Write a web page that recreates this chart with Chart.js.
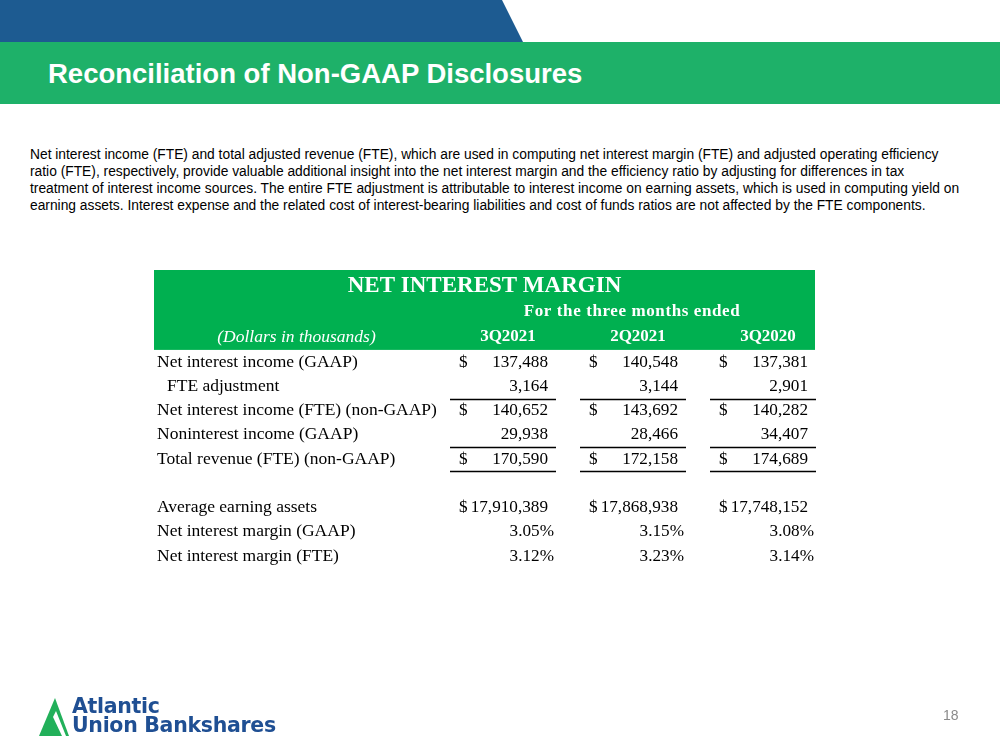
<!DOCTYPE html>
<html>
<head>
<meta charset="utf-8">
<script src="https://cdn.jsdelivr.net/npm/chart.js@4.4.1/dist/chart.umd.min.js"></script>
<style>
  html, body { margin:0; padding:0; background:#fff; }
  body { width:1000px; height:750px; position:relative; overflow:hidden; font-family:"Liberation Sans", Arial, sans-serif; }
  #blueBar { position:absolute; left:0; top:0; width:530px; height:42px; background:#1d5b91;
             clip-path: polygon(0 0, 502px 0, 523px 42px, 0 42px); }
  #greenBar { position:absolute; left:0; top:42px; width:1000px; height:62px; background:#1eb169; }
  #title { position:absolute; left:48px; top:57px; color:#fff; font-weight:bold; font-size:27.5px; line-height:34px; white-space:nowrap; }
  #para { position:absolute; left:30px; top:146px; font-size:13.8px; line-height:17px; color:#000; white-space:nowrap; }
  #chartBox { position:absolute; left:0; top:0; width:1000px; height:750px; }
  #logoText { position:absolute; left:72px; top:697px; color:#1f4f93; font-family:"DejaVu Sans", sans-serif; font-weight:bold; font-size:20.5px; line-height:19px; letter-spacing:-0.3px; white-space:nowrap; }
  #pageNum { position:absolute; left:943px; top:707px; color:#8a8a8a; font-size:14px; }
  #logoMark { position:absolute; left:0; top:0; }
</style>
</head>
<body>
<div id="blueBar"></div>
<div id="greenBar"></div>
<div id="title">Reconciliation of Non-GAAP Disclosures</div>
<div id="para">Net interest income (FTE) and total adjusted revenue (FTE), which are used in computing net interest margin (FTE) and adjusted operating efficiency<br>ratio (FTE), respectively, provide valuable additional insight into the net interest margin and the efficiency ratio by adjusting for differences in tax<br>treatment of interest income sources. The entire FTE adjustment is attributable to interest income on earning assets, which is used in computing yield on<br>earning assets. Interest expense and the related cost of interest-bearing liabilities and cost of funds ratios are not affected by the FTE components.</div>
<div id="chartBox"><canvas id="c"></canvas></div>
<svg id="logoMark" width="100" height="750">
  <polygon points="39,736 55,698 69,736" fill="#22b05a"/>
  <polygon points="53,717 56,711 66,736 62,736" fill="#fff"/>
</svg>
<div id="logoText">Atlantic<br>Union Bankshares</div>
<div id="pageNum">18</div>

<script>
// ---------------- DATA ----------------
const tableTitle = 'NET INTEREST MARGIN';
const periodCaption = 'For the three months ended';
const unitsCaption = '(Dollars in thousands)';
const periods = ['3Q2021', '2Q2021', '3Q2020'];

const rowKeys   = ['nii', 'fte', 'niiFte', 'nonint', 'total', 'blank', 'assets', 'nimGaap', 'nimFte'];
const rowLabels = [
  'Net interest income (GAAP)',
  'FTE adjustment',
  'Net interest income (FTE) (non-GAAP)',
  'Noninterest income (GAAP)',
  'Total revenue (FTE) (non-GAAP)',
  '',
  'Average earning assets',
  'Net interest margin (GAAP)',
  'Net interest margin (FTE)'
];

const netInterestIncomeGAAP = [137488, 140548, 137381];
const fteAdjustment         = [3164, 3144, 2901];
const netInterestIncomeFTE  = [140652, 143692, 140282];
const noninterestIncomeGAAP = [29938, 28466, 34407];
const totalRevenueFTE       = [170590, 172158, 174689];
const averageEarningAssets  = [17910389, 17868938, 17748152];
const netInterestMarginGAAP = [3.05, 3.15, 3.08];
const netInterestMarginFTE  = [3.12, 3.23, 3.14];

// row -> values / format
const rowValues = {
  nii: netInterestIncomeGAAP, fte: fteAdjustment, niiFte: netInterestIncomeFTE,
  nonint: noninterestIncomeGAAP, total: totalRevenueFTE, assets: averageEarningAssets,
  nimGaap: netInterestMarginGAAP, nimFte: netInterestMarginFTE
};
const rowFormat = {
  nii: 'dollar', fte: 'plain', niiFte: 'dollar', nonint: 'plain', total: 'dollar',
  assets: 'dollar', nimGaap: 'pct', nimFte: 'pct'
};

// ---------------- STYLE ----------------
const SERIF = '"Liberation Serif", "Times New Roman", serif';
const headerGreen = '#00b050';
const tableLeft = 154;
const labelX = 157;
const indentRows = { fte: 10 };
const underlineRows = ['fte', 'nonint', 'total'];

const fmtNum = v => v.toLocaleString('en-US');

const tablePlugin = {
  id: 'nimTable',
  beforeDatasetsDraw(chart) {
    const ctx = chart.ctx, xs = chart.scales.x, ys = chart.scales.y;
    const y0 = ys.getPixelForValue(0);
    const right = xs.getPixelForValue(periods.length - 1) + 51;
    ctx.save();
    ctx.fillStyle = headerGreen;
    ctx.fillRect(tableLeft, y0 - 92, right - tableLeft, 92 - 12.1);
    ctx.restore();
  },
  afterDatasetsDraw(chart) {
    const ctx = chart.ctx, xs = chart.scales.x, ys = chart.scales.y;
    const y0 = ys.getPixelForValue(0);
    const right = xs.getPixelForValue(periods.length - 1) + 51;
    ctx.save();
    ctx.textBaseline = 'middle';

    // Header rows
    ctx.fillStyle = '#fff';
    ctx.textAlign = 'center';
    ctx.font = 'bold 23px ' + SERIF;
    ctx.fillText(tableTitle, (tableLeft + right) / 2, y0 - 76);
    ctx.font = 'bold 17px ' + SERIF;
    ctx.letterSpacing = '0.6px';
    ctx.fillText(periodCaption, xs.getPixelForValue(1) - 2, y0 - 50);
    ctx.letterSpacing = '0px';
    periods.forEach((p, i) => ctx.fillText(p, xs.getPixelForValue(i) + 4, y0 - 25));
    ctx.font = 'italic 17.5px ' + SERIF;
    ctx.fillText(unitsCaption, (tableLeft + xs.left) / 2, y0 - 25);

    // Row labels
    ctx.fillStyle = '#000';
    ctx.textAlign = 'left';
    ctx.font = '17.5px ' + SERIF;
    rowKeys.forEach((k, r) => {
      const lbl = rowLabels[r];
      if (!lbl) return;
      ctx.fillText(lbl, labelX + (indentRows[k] || 0), ys.getPixelForValue(r));
    });

    // Cells from dataset elements
    ctx.font = '17.2px ' + SERIF;
    chart.data.datasets.forEach((ds, di) => {
      const key = ds.rowKey;
      const vals = rowValues[key];
      const fmt = rowFormat[key];
      const meta = chart.getDatasetMeta(di);
      meta.data.forEach((pt, i) => {
        const x = pt.x, y = pt.y;
        const v = vals[i];
        if (fmt === 'pct') {
          ctx.textAlign = 'right';
          ctx.fillText(v.toFixed(2) + '%', x + 50, y);
        } else {
          ctx.textAlign = 'right';
          ctx.fillText(fmtNum(v), x + 44, y);
          if (fmt === 'dollar') {
            ctx.textAlign = 'left';
            ctx.fillText('$', x - 45, y);
          }
        }
      });
    });

    // Underlines
    ctx.strokeStyle = '#000';
    ctx.lineWidth = 1.4;
    underlineRows.forEach(k => {
      const r = rowKeys.indexOf(k);
      const yy = Math.round(ys.getPixelForValue(r) + 12.3) + 0.5;
      periods.forEach((p, i) => {
        const cx = xs.getPixelForValue(i);
        ctx.beginPath();
        ctx.moveTo(cx - 54, yy);
        ctx.lineTo(cx + 52, yy);
        ctx.stroke();
      });
    });
    ctx.restore();
  }
};

const datasets = rowKeys.filter(k => rowValues[k]).map(k => ({
  rowKey: k,
  label: k,
  data: periods.map((p, i) => ({ x: p, y: k })),
  showLine: false,
  pointRadius: 0,
  pointHoverRadius: 0
}));

new Chart(document.getElementById('c'), {
  type: 'line',
  data: { datasets },
  options: {
    responsive: true,
    maintainAspectRatio: false,
    animation: false,
    events: [],
    layout: { padding: { left: 439, right: 171, top: 349.875, bottom: 181.875 } },
    plugins: { legend: { display: false }, tooltip: { enabled: false } },
    scales: {
      x: { type: 'category', labels: periods, offset: true, display: false },
      y: { type: 'category', labels: rowKeys, offset: true, display: false }
    }
  },
  plugins: [tablePlugin]
});
</script>
</body>
</html>
